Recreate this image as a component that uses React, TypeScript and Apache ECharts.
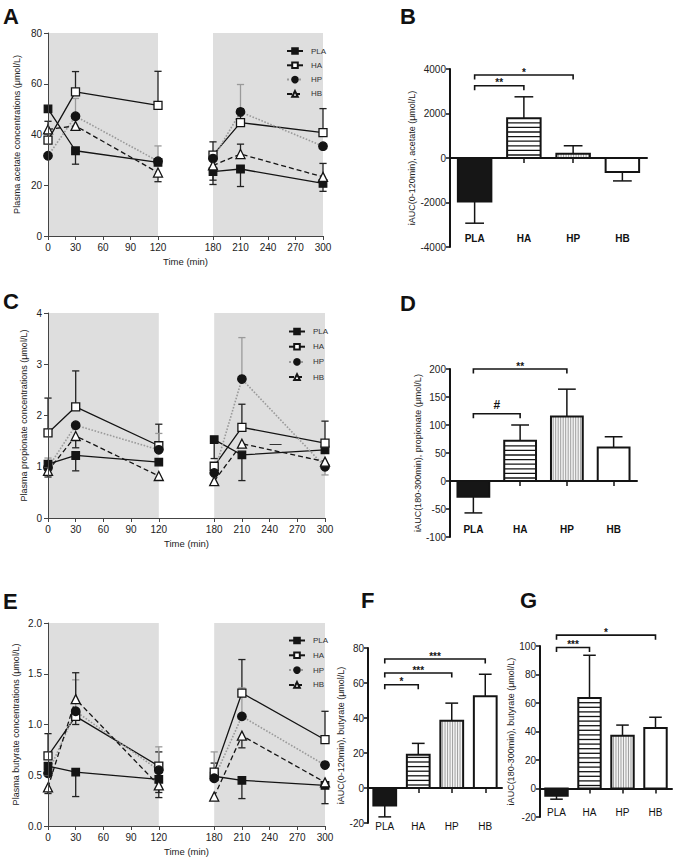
import React, { useEffect, useRef } from "react";
import * as echarts from "echarts";

// ---------- data ----------
const TIMES = [0, 30, 120, 180, 210, 300];
const TIME_TICKS = [0, 30, 60, 90, 120, 180, 210, 240, 270, 300];
const GROUPS = ["PLA", "HA", "HP", "HB"];

// A: plasma acetate (µmol/L)
const ACE_PLA = [50.1, 33.6, 29.0, 25.4, 26.4, 20.7];
const ACE_HA = [37.8, 56.8, 51.5, 31.9, 44.7, 40.7];
const ACE_HP = [31.6, 47.2, 29.5, 30.5, 48.9, 35.4];
const ACE_HB = [42.0, 43.4, 25.0, 27.8, 32.3, 23.3];
const ACE_PLA_ERR = [null, 28.3, null, 22.0, 19.5, 17.6];
const ACE_HA_ERR = [45.2, 64.8, 64.9, 37.1, 50.2, 50.2];
const ACE_HP_ERR = [null, 54.2, 35.5, null, 59.7, null];
const ACE_HB_ERR = [null, null, 21.4, 20.3, 36.2, 28.6];

// C: plasma propionate (µmol/L)
const PRO_PLA = [1.05, 1.22, 1.09, 1.53, 1.23, 1.33];
const PRO_HA = [1.66, 2.17, 1.41, 1.01, 1.77, 1.46];
const PRO_HP = [0.98, 1.81, 1.33, 0.88, 2.71, 1.0];
const PRO_HB = [0.92, 1.6, 0.82, 0.72, 1.45, 1.1];
const PRO_PLA_ERR = [null, 0.92, null, 1.16, 0.73, null];
const PRO_HA_ERR = [2.34, 2.87, 1.83, null, 2.22, 1.89];
const PRO_HP_ERR = [1.17, null, 1.65, null, 3.52, 0.84];
const PRO_HB_ERR = [0.8, 1.37, null, 0.65, null, null];
const PRO_STRAY = [240, 253, 1.43];

// E: plasma butyrate (µmol/L)
const BUT_PLA = [0.59, 0.53, 0.46, 0.49, 0.45, 0.4];
const BUT_HA = [0.69, 1.08, 0.59, 0.53, 1.31, 0.85];
const BUT_HP = [0.52, 1.13, 0.55, 0.47, 1.08, 0.6];
const BUT_HB = [0.38, 1.25, 0.4, 0.29, 0.89, 0.43];
const BUT_PLA_ERR = [null, 0.29, 0.33, null, 0.27, 0.22];
const BUT_HA_ERR = [0.91, 1.0, 0.73, 0.62, 1.64, 1.13];
const BUT_HP_ERR = [null, 1.44, 0.78, 0.73, 1.36, null];
const BUT_HB_ERR = [0.32, 1.51, 0.28, null, 0.77, null];

// B: iAUC(0-120min) acetate
const B_VALUES = [-1950, 1790, 190, -630];
const B_ERR = [-2930, 2750, 550, -1030];
const B_BRACKETS = [[0, 1, 3250, "**"], [0, 2, 3730, "*"]];
// D: iAUC(180-300min) propionate
const D_VALUES = [-28, 72, 115, 60];
const D_ERR = [-57, 100, 164, 79];
const D_BRACKETS = [[0, 1, 120, "#"], [0, 2, 200, "**"]];
// F: iAUC(0-120min) butyrate
const F_VALUES = [-10, 19, 38.5, 52.5];
const F_ERR = [-16.5, 25.5, 48.5, 65];
const F_BRACKETS = [[0, 1, 59, "*"], [0, 2, 65.7, "***"], [0, 3, 73.7, "***"]];
// G: iAUC(180-300min) butyrate
const G_VALUES = [-5, 63.5, 37, 42.5];
const G_ERR = [-7.5, 93.5, 44.5, 50];
const G_BRACKETS = [[0, 1, 99, "***"], [0, 3, 107.6, "*"]];

// ---------- styles / layout ----------
const FONT = "Liberation Sans, Arial, sans-serif";
const INK = "#141414";
const GRAY_LINE = "#9a9a9a";

const LINE_STYLE: any = {
  PLA: { symbol: "rect", size: 7.5, fill: INK, line: INK, type: "solid", width: 1.3 },
  HA: { symbol: "rect", size: 8, fill: "#fff", line: INK, type: "solid", width: 1.3 },
  HP: { symbol: "circle", size: 8.5, fill: INK, line: GRAY_LINE, type: "dotted", width: 1.6 },
  HB: { symbol: "triangle", size: 9, fill: "#fff", line: INK, type: [5, 3], width: 1.3 },
};

const BAR_STYLE: any = {
  PLA: { fill: "#161616", hatch: null },
  HA: { fill: "#fff", hatch: "h" },
  HP: { fill: "#f4f4f4", hatch: "v" },
  HB: { fill: "#fff", hatch: null },
};

const GRIDS: any = {
  A: { left: 48, top: 33, width: 275, height: 203 },
  B: { left: 450, top: 69, width: 197, height: 178 },
  C: { left: 48, top: 313, width: 277, height: 205 },
  D: { left: 450, top: 369, width: 187, height: 168 },
  E: { left: 48, top: 623, width: 277, height: 203 },
  F: { left: 368, top: 648, width: 134, height: 175 },
  G: { left: 540, top: 646, width: 132, height: 171 },
};

function lineData(vals: number[]) {
  const out: any[] = [];
  TIMES.forEach((t, i) => {
    if (i === 3) out.push([150, "-"]); // break between the two sessions
    out.push([t, vals[i]]);
  });
  return out;
}

function errData(list: any[]) {
  const rows: any[] = [];
  list.forEach(([vals, errs], gi) => {
    TIMES.forEach((t, i) => {
      if (errs[i] != null) rows.push([t, vals[i], errs[i], gi]);
    });
  });
  return rows;
}

const errRender = (params: any, api: any) => {
  const t = api.value(0);
  const v = api.value(1);
  const e = api.value(2);
  const g = api.value(3);
  const p = api.coord([t, v]);
  const q = api.coord([t, e]);
  const color = g === 2 ? GRAY_LINE : "#222";
  return {
    type: "group",
    children: [
      { type: "line", shape: { x1: p[0], y1: p[1], x2: q[0], y2: q[1] }, style: { stroke: color, lineWidth: 1.3 } },
      { type: "line", shape: { x1: q[0] - 3.6, y1: q[1], x2: q[0] + 3.6, y2: q[1] }, style: { stroke: color, lineWidth: 1.3 } },
    ],
  };
};

const barRender = (params: any, api: any) => {
  const idx = params.dataIndex;
  const v = api.value(1);
  const e = api.value(2);
  const st = BAR_STYLE[GROUPS[idx]];
  const base = api.coord([idx, 0]);
  const end = api.coord([idx, v]);
  const ep = api.coord([idx, e]);
  const band = api.size([1, 0])[0];
  const w = band * 0.68;
  const x0 = base[0] - w / 2;
  const yTop = Math.min(base[1], end[1]);
  const h = Math.abs(end[1] - base[1]);
  const capW = w * 0.28;
  const children: any[] = [
    { type: "line", shape: { x1: end[0], y1: end[1], x2: ep[0], y2: ep[1] }, style: { stroke: INK, lineWidth: 1.5 } },
    { type: "line", shape: { x1: ep[0] - capW, y1: ep[1], x2: ep[0] + capW, y2: ep[1] }, style: { stroke: INK, lineWidth: 1.5 } },
    { type: "rect", shape: { x: x0, y: yTop, width: w, height: h }, style: { fill: st.fill } },
  ];
  if (st.hatch === "h") {
    for (let y = yTop + h - 3; y > yTop + 1.5; y -= 4.6) {
      children.push({ type: "line", shape: { x1: x0, y1: y, x2: x0 + w, y2: y }, style: { stroke: INK, lineWidth: 1.3 } });
    }
  } else if (st.hatch === "v") {
    for (let x = x0 + 2.2; x < x0 + w - 1; x += 2.5) {
      children.push({ type: "line", shape: { x1: x, y1: yTop, x2: x, y2: yTop + h }, style: { stroke: "#8a8a8a", lineWidth: 0.8 } });
    }
  }
  children.push({ type: "rect", shape: { x: x0, y: yTop, width: w, height: h }, style: { fill: "none", stroke: INK, lineWidth: 2 } });
  return { type: "group", children };
};

const makeBracketRender = (brackets: any[]) => (params: any, api: any) => {
  const b = brackets[params.dataIndex];
  const p1 = api.coord([b[0], b[2]]);
  const p2 = api.coord([b[1], b[2]]);
  const drop = 4.5;
  const isHash = b[3] === "#";
  return {
    type: "group",
    children: [
      {
        type: "polyline",
        shape: { points: [[p1[0], p1[1] + drop], [p1[0], p1[1]], [p2[0], p2[1]], [p2[0], p2[1] + drop]] },
        style: { stroke: INK, lineWidth: 1.6, fill: "none" },
      },
      {
        type: "text",
        x: (p1[0] + p2[0]) / 2,
        y: p1[1] - (isHash ? 9 : 3),
        style: {
          text: b[3],
          fontSize: isHash ? 12 : 10,
          fontWeight: "bold",
          fontFamily: FONT,
          fill: INK,
          align: "center",
          verticalAlign: "middle",
        },
      },
    ],
  };
};

export default function App() {
  const ref = useRef<HTMLDivElement>(null);

  useEffect(() => {
    document.body.style.margin = "0";
    if (!ref.current) return;
    const chart = echarts.init(ref.current, null, { renderer: "svg" });

    const gridKeys = ["A", "B", "C", "D", "E", "F", "G"];
    const grid = gridKeys.map((k) => ({ ...GRIDS[k], containLabel: false }));
    const gi = (k: string) => gridKeys.indexOf(k);

    const xAxis: any[] = [];
    const yAxis: any[] = [];
    const series: any[] = [];
    const legend: any[] = [];

    const axisTxt = { fontSize: 10, color: "#222", fontFamily: FONT };
    const nameTxt = { fontSize: 9, color: "#222", fontFamily: FONT };

    // ----- line panels -----
    const linePanel = (key: string, yCfg: any, groups: any[], errs: any[], legendPos: any, extra?: any) => {
      const xi = xAxis.length;
      const yi = yAxis.length;
      xAxis.push({
        type: "value",
        gridIndex: gi(key),
        min: 0,
        max: 300,
        position: "bottom",
        z: 10,
        axisLine: { onZero: false, lineStyle: { color: "#444", width: 1 } },
        axisTick: { customValues: TIME_TICKS, length: 4, lineStyle: { color: "#444" } },
        axisLabel: { customValues: TIME_TICKS, margin: 6, ...axisTxt },
        splitLine: { show: false },
        name: "Time (min)",
        nameLocation: "middle",
        nameGap: 20,
        nameTextStyle: { ...nameTxt, fontSize: 9.5 },
      });
      yAxis.push({
        type: "value",
        gridIndex: gi(key),
        min: yCfg.min,
        max: yCfg.max,
        interval: yCfg.interval,
        z: 10,
        axisLine: { show: true, onZero: false, lineStyle: { color: "#444", width: 1 } },
        axisTick: { show: true, length: 4, lineStyle: { color: "#444" } },
        axisLabel: { margin: 6, ...axisTxt, formatter: yCfg.formatter },
        splitLine: { show: false },
        name: yCfg.name,
        nameLocation: "middle",
        nameRotate: 90,
        nameGap: yCfg.nameGap,
        nameTextStyle: nameTxt,
      });
      series.push({
        type: "custom",
        name: key + "-err",
        xAxisIndex: xi,
        yAxisIndex: yi,
        z: 2,
        renderItem: errRender,
        data: errData(groups.map((g, i) => [g, errs[i]])),
        markArea: {
          silent: true,
          itemStyle: { color: "#dedede" },
          data: [
            [{ xAxis: 0 }, { xAxis: 120 }],
            [{ xAxis: 180 }, { xAxis: 300 }],
          ],
        },
      });
      GROUPS.forEach((name, i) => {
        const s = LINE_STYLE[name];
        const ser: any = {
          type: "line",
          name,
          xAxisIndex: xi,
          yAxisIndex: yi,
          z: 3,
          data: lineData(groups[i]),
          symbol: s.symbol,
          symbolSize: s.size,
          showSymbol: true,
          connectNulls: false,
          lineStyle: { color: s.line, width: s.width, type: s.type },
          itemStyle: { color: s.fill, borderColor: INK, borderWidth: 1.3 },
        };
        if (extra && i === 0) ser.markLine = extra;
        series.push(ser);
      });
      legend.push({
        orient: "vertical",
        left: legendPos.left,
        top: legendPos.top,
        itemWidth: 16,
        itemHeight: 7,
        itemGap: legendPos.gap + 1,
        data: GROUPS,
        selectedMode: false,
        textStyle: { fontSize: 8, color: "#333333", fontFamily: FONT, padding: [0, 0, 0, 3] },
      });
    };

    linePanel(
      "A",
      { min: 0, max: 80, interval: 20, name: "Plasma acetate concentrations (μmol/L)", nameGap: 27 },
      [ACE_PLA, ACE_HA, ACE_HP, ACE_HB],
      [ACE_PLA_ERR, ACE_HA_ERR, ACE_HP_ERR, ACE_HB_ERR],
      { left: 281, top: 42, gap: 5.3 }
    );
    linePanel(
      "C",
      { min: 0, max: 4, interval: 1, name: "Plasma propionate concentrations (μmol/L)", nameGap: 20 },
      [PRO_PLA, PRO_HA, PRO_HP, PRO_HB],
      [PRO_PLA_ERR, PRO_HA_ERR, PRO_HP_ERR, PRO_HB_ERR],
      { left: 283, top: 322.5, gap: 6.2 },
      {
        silent: true,
        symbol: "none",
        label: { show: false },
        lineStyle: { color: "#333", width: 1, type: "solid" },
        data: [[{ coord: [PRO_STRAY[0], PRO_STRAY[2]] }, { coord: [PRO_STRAY[1], PRO_STRAY[2]] }]],
      }
    );
    linePanel(
      "E",
      {
        min: 0,
        max: 2,
        interval: 0.5,
        name: "Plasma butyrate concentrations (μmol/L)",
        nameGap: 28,
        formatter: (v: number) => v.toFixed(1),
      },
      [BUT_PLA, BUT_HA, BUT_HP, BUT_HB],
      [BUT_PLA_ERR, BUT_HA_ERR, BUT_HP_ERR, BUT_HB_ERR],
      { left: 283, top: 631.5, gap: 5.8 }
    );

    // ----- bar panels -----
    const barPanel = (key: string, cfg: any, values: number[], errs: number[], brackets: any[]) => {
      const xi = xAxis.length;
      xAxis.push({
        type: "category",
        gridIndex: gi(key),
        data: GROUPS,
        position: "bottom",
        offset: cfg.labelOffset,
        axisLine: { show: false, onZero: false },
        axisTick: { show: false },
        axisLabel: { margin: 0, ...axisTxt, color: "#111", fontWeight: cfg.bold ? "bold" : "normal" },
        splitLine: { show: false },
      });
      xAxis.push({
        type: "category",
        gridIndex: gi(key),
        data: GROUPS,
        position: "bottom",
        axisLine: { show: true, onZero: true, lineStyle: { color: INK, width: 2 } },
        axisTick: { show: true, alignWithLabel: true, length: 5, lineStyle: { color: INK, width: 1.5 } },
        axisLabel: { show: false },
        splitLine: { show: false },
      });
      const yi = yAxis.length;
      yAxis.push({
        type: "value",
        gridIndex: gi(key),
        min: cfg.min,
        max: cfg.max,
        interval: cfg.interval,
        axisLine: { show: true, onZero: false, lineStyle: { color: INK, width: 2 } },
        axisTick: { show: true, length: 4, lineStyle: { color: INK, width: 1.5 } },
        axisLabel: { margin: 4, ...axisTxt, formatter: (v: number) => String(v) },
        splitLine: { show: false },
        name: cfg.name,
        nameLocation: "middle",
        nameRotate: 90,
        nameGap: cfg.nameGap,
        nameTextStyle: nameTxt,
      });
      series.push({
        type: "custom",
        name: key + "-bars",
        xAxisIndex: xi,
        yAxisIndex: yi,
        z: 3,
        renderItem: barRender,
        data: values.map((v, i) => [i, v, errs[i]]),
      });
      series.push({
        type: "custom",
        name: key + "-sig",
        xAxisIndex: xi,
        yAxisIndex: yi,
        z: 4,
        clip: false,
        renderItem: makeBracketRender(brackets),
        data: brackets.map((b) => [b[0], b[2], b[1]]),
      });
    };

    barPanel(
      "B",
      { min: -4000, max: 4000, interval: 2000, name: "iAUC(0-120min), acetate (μmol/L)", nameGap: 25, labelOffset: -14, bold: true },
      B_VALUES,
      B_ERR,
      B_BRACKETS
    );
    barPanel(
      "D",
      { min: -100, max: 200, interval: 50, name: "iAUC(180-300min), propionate (μmol/L)", nameGap: 22, labelOffset: -13, bold: true },
      D_VALUES,
      D_ERR,
      D_BRACKETS
    );
    barPanel(
      "F",
      { min: -20, max: 80, interval: 20, name: "iAUC(0-120min), butyrate (μmol/L)", nameGap: 20, labelOffset: -2, bold: false },
      F_VALUES,
      F_ERR,
      F_BRACKETS
    );
    barPanel(
      "G",
      { min: -20, max: 100, interval: 20, name: "iAUC(180-300min), butyrate (μmol/L)", nameGap: 16, labelOffset: -10, bold: false },
      G_VALUES,
      G_ERR,
      G_BRACKETS
    );

    const letter = (text: string, x: number, y: number) => ({
      type: "text",
      x,
      y,
      style: { text, fontSize: 22, fontWeight: "bold", fontFamily: FONT, fill: "#111" },
    });

    chart.setOption({
      animation: false,
      backgroundColor: "#fff",
      textStyle: { fontFamily: FONT },
      grid,
      xAxis,
      yAxis,
      series,
      legend,
      graphic: [
        letter("A", 3, 5),
        letter("B", 400, 5),
        letter("C", 3, 290),
        letter("D", 400, 292),
        letter("E", 3, 590),
        letter("F", 361, 589),
        letter("G", 520, 589),
      ],
    });

    return () => chart.dispose();
  }, []);

  return <div ref={ref} style={{ width: 675, height: 857 }} />;
}
